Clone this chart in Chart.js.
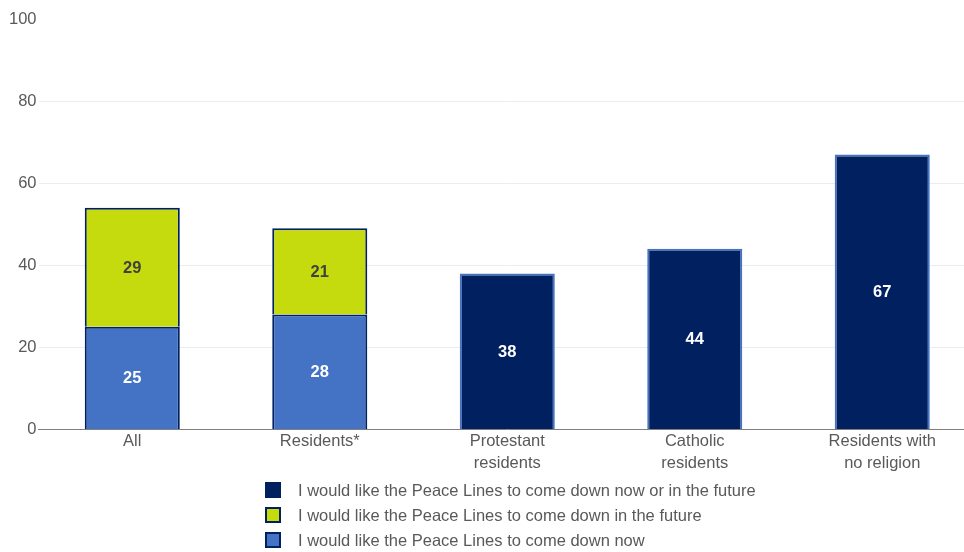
<!DOCTYPE html>
<html><head><meta charset="utf-8">
<script src="https://cdn.jsdelivr.net/npm/chart.js@4"></script>
<style>html,body{margin:0;padding:0;background:#fff;overflow:hidden;}#wrap{width:964px;height:552px;position:relative;overflow:hidden;}canvas{display:block;}</style>
</head><body><div id="wrap"><canvas id="c" width="976" height="552"></canvas></div>
<script>
const categories = ["All", "Residents*", ["Protestant", "residents"], ["Catholic", "residents"], ["Residents with", "no religion"]];
const nowValues = [25, 28, null, null, null];
const futureValues = [29, 21, null, null, null];
const nowOrFutureValues = [null, null, 38, 44, 67];
const yTicks = [0, 20, 40, 60, 80, 100];
const seriesNames = [
  "I would like the Peace Lines to come down now",
  "I would like the Peace Lines to come down in the future",
  "I would like the Peace Lines to come down now or in the future"
];
const FONT = "'Liberation Sans', Arial, sans-serif";

const labelPlugin = {
  id: 'barLabels',
  afterDatasetsDraw(chart) {
    const ctx = chart.ctx;
    ctx.save();
    ctx.font = "bold 16.5px " + FONT;
    ctx.textAlign = 'center';
    ctx.textBaseline = 'middle';
    chart.data.datasets.forEach((ds, i) => {
      const meta = chart.getDatasetMeta(i);
      meta.data.forEach((bar, j) => {
        const v = ds.data[j];
        if (v == null) return;
        const p = bar.getProps(['x', 'y', 'base'], true);
        ctx.fillStyle = ds.labelColor;
        ctx.fillText(String(v), p.x, (p.y + p.base) / 2 + 1);
      });
    });
    ctx.restore();
  }
};

const legendPlugin = {
  id: 'vLegend',
  afterDraw(chart) {
    const ctx = chart.ctx;
    ctx.save();
    const order = [2, 1, 0];
    ctx.font = "16.5px " + FONT;
    ctx.textBaseline = 'middle';
    ctx.textAlign = 'left';
    order.forEach((di, k) => {
      const ds = chart.data.datasets[di];
      const cy = 490 + k * 25;
      const bx = 266, bs = 14;
      ctx.fillStyle = ds.backgroundColor;
      ctx.fillRect(bx, cy - bs / 2, bs, bs);
      ctx.strokeStyle = '#002060';
      ctx.lineWidth = 2;
      ctx.strokeRect(bx, cy - bs / 2, bs, bs);
      ctx.fillStyle = '#595959';
      ctx.fillText(ds.label, 298, cy + 1);
    });
    ctx.restore();
  }
};

new Chart(document.getElementById('c'), {
  type: 'bar',
  data: {
    labels: categories,
    datasets: [
      { label: seriesNames[0], data: nowValues, backgroundColor: '#4472c4', borderColor: '#002060', borderWidth: 2, labelColor: '#ffffff' },
      { label: seriesNames[1], data: futureValues, backgroundColor: '#c5db0e', borderColor: '#002060', borderWidth: 2, labelColor: '#404040' },
      { label: seriesNames[2], data: nowOrFutureValues, backgroundColor: '#002060', borderColor: '#4472c4', borderWidth: 2, labelColor: '#ffffff' }
    ]
  },
  options: {
    responsive: false,
    animation: false,
    devicePixelRatio: 1,
    layout: { padding: { left: 7, right: 0, top: 19, bottom: 76 } },
    datasets: { bar: { barPercentage: 0.507, categoryPercentage: 1.0, skipNull: true } },
    plugins: { legend: { display: false }, tooltip: { enabled: false } },
    scales: {
      x: {
        stacked: true,
        grid: { display: false, drawTicks: false },
        border: { color: '#7f7f7f', width: 1 },
        ticks: { color: '#595959', font: { family: FONT, size: 16.5, lineHeight: 1.35 }, padding: 1, maxRotation: 0, autoSkip: false }
      },
      y: {
        stacked: true,
        min: 0, max: 100,
        afterBuildTicks(axis) { axis.ticks = yTicks.map(v => ({ value: v })); },
        grid: { color: (c) => (c.tick && c.tick.value === 100) ? 'rgba(0,0,0,0)' : '#ececec', drawTicks: false, lineWidth: 1 },
        border: { display: false },
        ticks: { color: '#595959', font: { family: FONT, size: 16.5 }, padding: 2 }
      }
    }
  },
  plugins: [labelPlugin, legendPlugin]
});
</script>
</body></html>
